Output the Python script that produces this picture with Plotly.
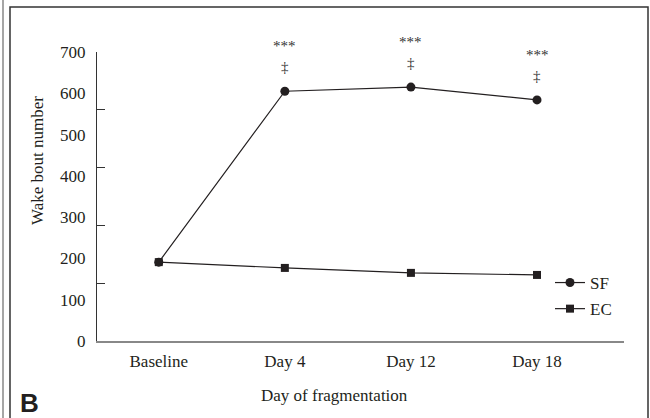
import plotly.graph_objects as go

categories = ["Baseline", "Day 4", "Day 12", "Day 18"]
sf_values = [191, 605, 615, 584]
ec_values = [191, 177, 165, 160]
sig_labels = ["", "***", "***", "***"]
dagger_labels = ["", "‡", "‡", "‡"]
y_label_vals = [0, 100, 200, 300, 400, 500, 600, 700]
y_tick_marks = [140, 280, 420, 560, 700]

FONT = "Liberation Serif"
INK = "#231f20"

fig = go.Figure()
fig.add_trace(go.Scatter(
    x=categories, y=sf_values, name="SF", mode="lines+markers",
    line=dict(color=INK, width=1.2), marker=dict(symbol="circle", size=9, color=INK),
    legendgroup="sf"))
fig.add_trace(go.Scatter(
    x=categories, y=ec_values, name="EC", mode="lines+markers",
    line=dict(color=INK, width=1.2), marker=dict(symbol="square", size=8, color=INK),
    legendgroup="ec"))
# invisible trace to carry the secondary axis for tick marks
fig.add_trace(go.Scatter(x=[categories[0]], y=[0], yaxis="y2", mode="markers",
                         marker=dict(opacity=0), showlegend=False, hoverinfo="skip"))

for c, v, s, d in zip(categories, sf_values, sig_labels, dagger_labels):
    if s:
        fig.add_annotation(x=c, y=v, text=s, showarrow=False, yshift=45,
                           font=dict(family=FONT, size=15, color="#333"))
        fig.add_annotation(x=c, y=v, text=d, showarrow=False, yshift=24,
                           font=dict(family=FONT, size=15, color="#333"))

# axis titles
fig.add_annotation(x=(334 - 97) / 527, y=(341 - 395) / 289, xref="paper", yref="paper",
                   xanchor="center", yanchor="middle",
                   text="Day of fragmentation", showarrow=False,
                   font=dict(family=FONT, size=17, color=INK))
fig.add_annotation(x=(37 - 97) / 527, y=(341 - 161) / 289, xref="paper", yref="paper",
                   xanchor="center", yanchor="middle",
                   text="Wake bout number", textangle=-90, showarrow=False,
                   font=dict(family=FONT, size=17, color=INK))
# panel letter
fig.add_annotation(x=(29 - 97) / 527, y=(341 - 403) / 289, xref="paper", yref="paper",
                   xanchor="center", yanchor="middle",
                   text="<b>B</b>", showarrow=False,
                   font=dict(family="Liberation Sans", size=26, color=INK))

# panel frames
fig.add_shape(type="rect", xref="paper", yref="paper",
              x0=(10 - 97) / 527, x1=(648 - 97) / 527,
              y0=(341 - 440) / 289, y1=(341 - 7) / 289,
              line=dict(color="#333", width=1.5), layer="below")
fig.add_shape(type="line", xref="paper", yref="paper",
              x0=(3 - 97) / 527, x1=(3 - 97) / 527,
              y0=(341 - 440) / 289, y1=(341 + 10) / 289,
              line=dict(color="#888", width=1.5))

fig.update_layout(
    width=650, height=418,
    margin=dict(l=97, r=26, t=52, b=77),
    paper_bgcolor="white", plot_bgcolor="white",
    font=dict(family=FONT, size=17, color=INK),
    xaxis=dict(range=[-0.49, 3.69], showline=True, linecolor="#888", linewidth=2,
               ticks="", showgrid=False, zeroline=False, ticklabelstandoff=4,
               tickfont=dict(family=FONT, size=17, color=INK)),
    yaxis=dict(range=[0, 700], tickvals=y_label_vals, showline=True, linecolor="#333",
               linewidth=1.2, ticks="", showgrid=False, zeroline=False,
               ticklabelstandoff=7,
               tickfont=dict(family=FONT, size=17, color=INK)),
    yaxis2=dict(range=[0, 700], overlaying="y", side="left", tickvals=y_tick_marks,
                ticks="inside", ticklen=8, tickcolor="#333", tickwidth=1.2,
                showticklabels=False, showgrid=False, zeroline=False, showline=False),
    showlegend=True,
    legend=dict(x=(550 - 97) / 527, y=(341 - 265) / 289, xanchor="left", yanchor="top",
                bgcolor="rgba(0,0,0,0)", traceorder="grouped", tracegroupgap=1,
                font=dict(family=FONT, size=17, color=INK)),
)

fig.write_html("out.html")
